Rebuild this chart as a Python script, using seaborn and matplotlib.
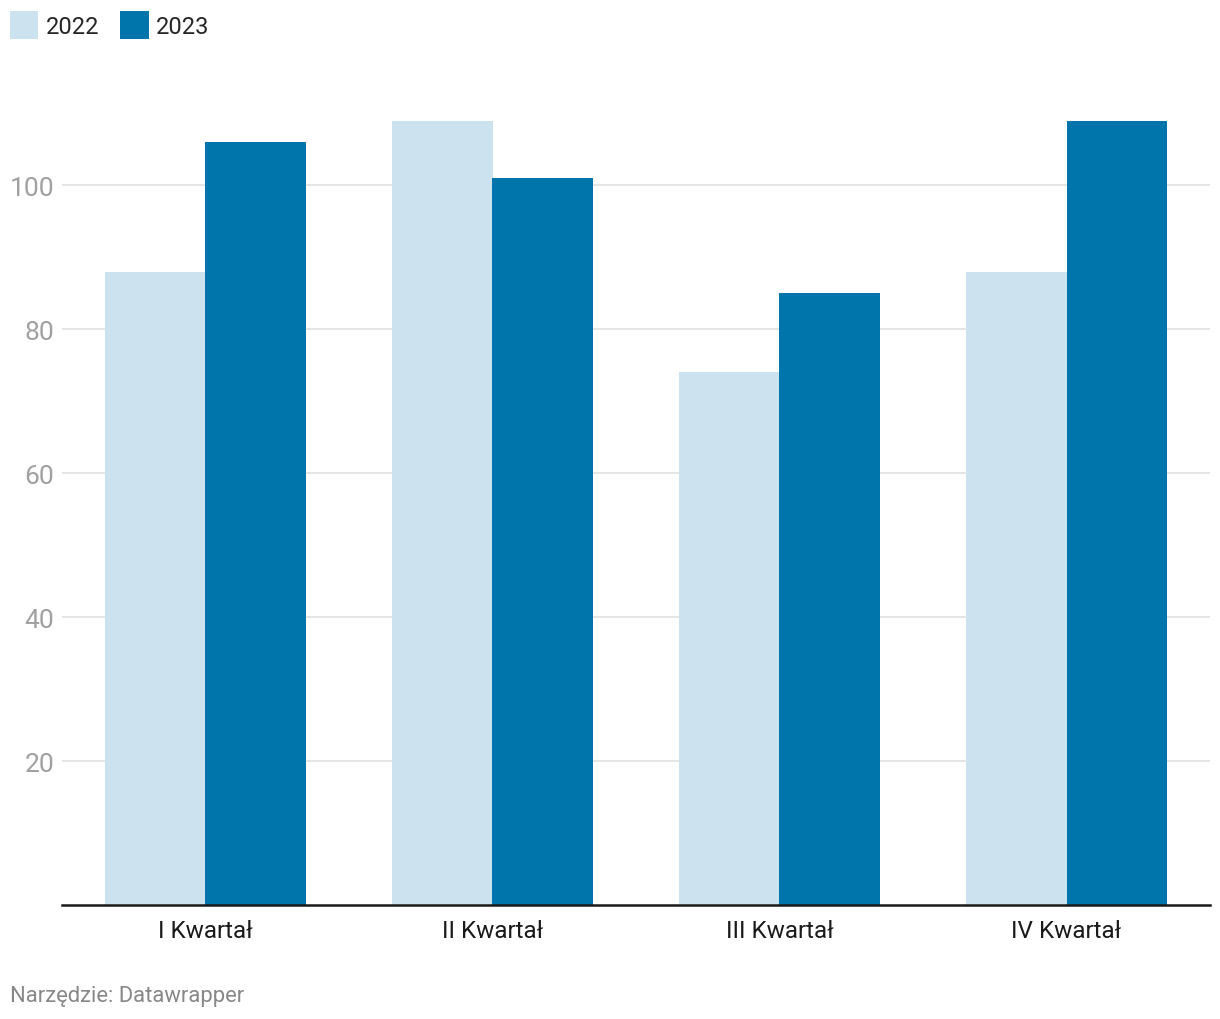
import pandas as pd
import matplotlib.pyplot as plt
import seaborn as sns
from matplotlib.patches import Patch

# Data
quarters = ['I Kwartał', 'II Kwartał', 'III Kwartał', 'IV Kwartał']
values_2022 = [88, 109, 74, 88]
values_2023 = [106, 101, 85, 109]
years = ['2022', '2023']

df = pd.DataFrame({
    'quarter': quarters * 2,
    'year': [years[0]] * 4 + [years[1]] * 4,
    'value': values_2022 + values_2023,
})

sns.set_style('white')
plt.rcParams['font.family'] = ['Roboto', 'DejaVu Sans']

palette = {'2022': '#cce2ee', '2023': '#0075ac'}

fig = plt.figure(figsize=(12.2, 10.2), dpi=100)
ax = fig.add_axes([62 / 1220, 114 / 1020, 1148 / 1220, 806 / 1020])

sns.barplot(data=df, x='quarter', y='value', hue='year', palette=palette,
            width=0.7, saturation=1, linewidth=0, edgecolor='none',
            ax=ax, legend=False, zorder=3)

ax.set_xlim(-0.5, 3.5)
ax.set_ylim(0, 112)
ax.set_yticks([20, 40, 60, 80, 100])
ax.grid(axis='y', color='#e3e3e3', linewidth=1.3, zorder=0)
ax.set_xlabel('')
ax.set_ylabel('')

for side in ['top', 'right', 'left']:
    ax.spines[side].set_visible(False)
ax.spines['bottom'].set_color('#1a1a1a')
ax.spines['bottom'].set_linewidth(1.8)
ax.spines['bottom'].set_zorder(4)

ax.tick_params(axis='y', length=0, pad=5.5, labelsize=19, labelcolor='#a0a0a0')
ax.tick_params(axis='x', length=0, pad=10, labelsize=17.5, labelcolor='#1a1a1a')

# Legend at the top left
handles = [Patch(facecolor=palette[y], edgecolor='none') for y in years]
fig.legend(handles, years, loc='upper left', bbox_to_anchor=(10 / 1220, 1 - 12 / 1020),
           ncol=2, frameon=False, fontsize=17, handlelength=1.2, handleheight=1.45,
           handletextpad=0.3, columnspacing=0.9, borderaxespad=0, borderpad=0)

fig.text(10 / 1220, 1 - 997 / 1020, 'Narzędzie: Datawrapper', fontsize=15.8,
         color='#888888', va='center', ha='left')

plt.savefig('out.png', dpi=100)
plt.close()
